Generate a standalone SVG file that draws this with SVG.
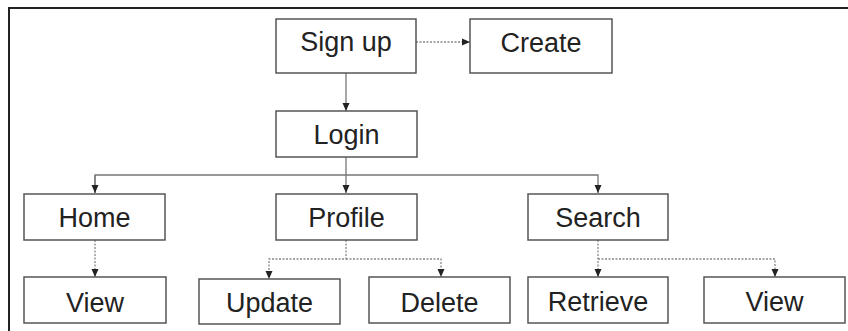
<svg xmlns="http://www.w3.org/2000/svg" width="848" height="331" viewBox="0 0 848 331">
<style>
.box{fill:#fff;stroke:#555;stroke-width:1.5}
.lbl{font-family:"Liberation Sans",Arial,sans-serif;font-size:27px;fill:#222;text-anchor:middle}
.solid{fill:none;stroke:#777;stroke-width:1.3}
.dash{fill:none;stroke:#888;stroke-width:1.3;stroke-dasharray:2 1.5}
</style>
<defs>
<marker id="ah" viewBox="0 0 8 8" refX="8" refY="4" markerWidth="8" markerHeight="8" markerUnits="userSpaceOnUse" orient="auto">
<path d="M0,0.5 L8,4 L0,7.5 Z" fill="#222"/>
</marker>
</defs>
<rect x="0" y="0" width="848" height="331" fill="#fff"/>
<rect x="9" y="8" width="850" height="340" fill="none" stroke="#222" stroke-width="2"/>
<g id="connectors">
<path class="dash" d="M416,42 H470" marker-end="url(#ah)"/>
<path class="solid" d="M346,73 V111" marker-end="url(#ah)"/>
<path class="solid" d="M346,157 V193" marker-end="url(#ah)"/>
<path class="solid" d="M95,193 V175 H598 V193" marker-end="url(#ah)"/>
<path class="solid" d="M95,175 V193" marker-end="url(#ah)"/>
<path class="dash" d="M95,240 V277" marker-end="url(#ah)"/>
<path class="dash" d="M346,240 V259 H269 V279" marker-end="url(#ah)"/>
<path class="dash" d="M346,259 H441 V277" marker-end="url(#ah)"/>
<path class="dash" d="M598,240 V277" marker-end="url(#ah)"/>
<path class="dash" d="M598,259 H775 V277" marker-end="url(#ah)"/>
</g>
<g id="signup"><rect class="box" x="276" y="19" width="140" height="54"/><text class="lbl" x="346" y="51">Sign up</text></g>
<g id="create"><rect class="box" x="470" y="19" width="142" height="54"/><text class="lbl" x="541" y="51.5">Create</text></g>
<g id="login"><rect class="box" x="276" y="111" width="141" height="46"/><text class="lbl" x="346.5" y="144">Login</text></g>
<g id="home"><rect class="box" x="24" y="194" width="141" height="46"/><text class="lbl" x="94.5" y="226.5">Home</text></g>
<g id="profile"><rect class="box" x="276" y="194" width="141" height="46"/><text class="lbl" x="346.5" y="227">Profile</text></g>
<g id="search"><rect class="box" x="528" y="194" width="140" height="46"/><text class="lbl" x="598" y="227">Search</text></g>
<g id="view1"><rect class="box" x="24" y="277" width="142" height="46"/><text class="lbl" x="95" y="311.5">View</text></g>
<g id="update"><rect class="box" x="199" y="279" width="141" height="45"/><text class="lbl" x="269.5" y="311.5">Update</text></g>
<g id="delete"><rect class="box" x="369" y="277" width="141" height="46"/><text class="lbl" x="439.5" y="311.5">Delete</text></g>
<g id="retrieve"><rect class="box" x="528" y="277" width="140" height="46"/><text class="lbl" x="598" y="311">Retrieve</text></g>
<g id="view2"><rect class="box" x="704" y="277" width="141" height="46"/><text class="lbl" x="774.5" y="311">View</text></g>
</svg>
